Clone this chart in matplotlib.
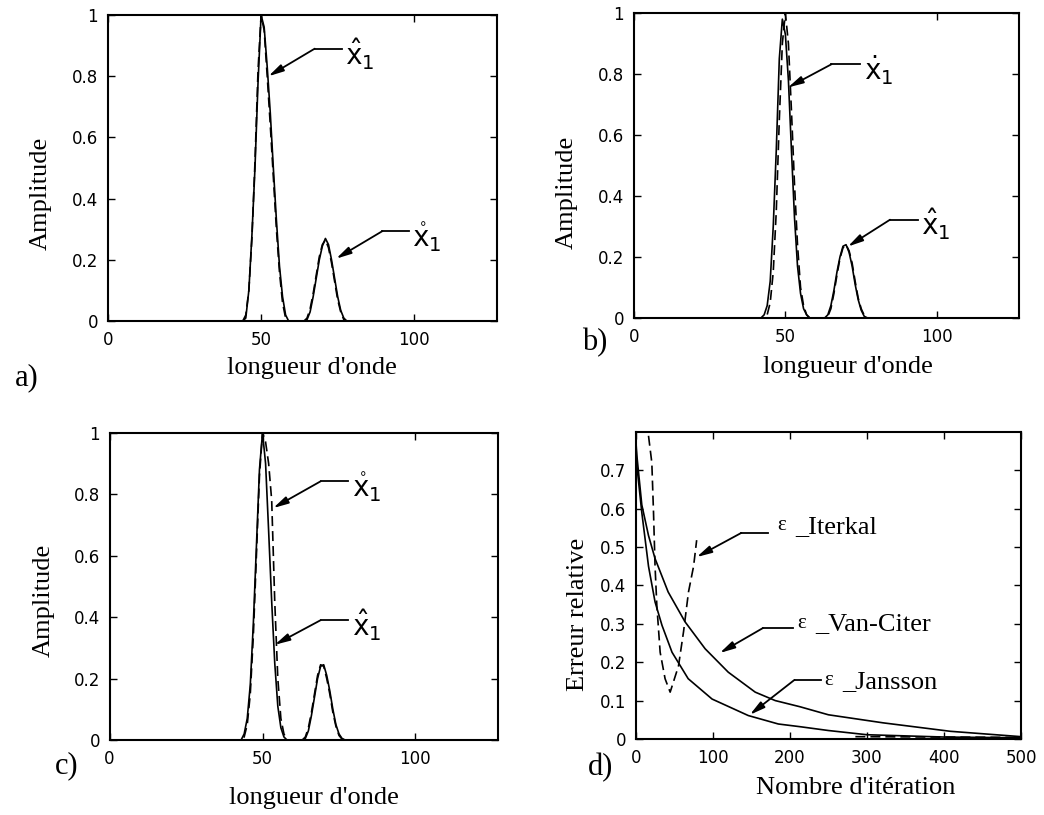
import numpy as np
import matplotlib
matplotlib.use("Agg")
import matplotlib.pyplot as plt

# ---- data ----
# panel a)  wavelength samples and amplitudes (solid = estimate, dashed = true)
a_x1 = [0, 44, 45, 46, 47, 48, 49, 50, 51, 52, 53, 54, 55, 56, 57, 58, 59]
a_s1 = [0, 0, 0.01, 0.10, 0.28, 0.50, 0.78, 1.00, 0.96, 0.83, 0.68, 0.50, 0.33, 0.18, 0.08, 0.02, 0]
a_d1 = [0, 0, 0.02, 0.10, 0.27, 0.52, 0.82, 1.00, 0.95, 0.80, 0.64, 0.47, 0.30, 0.16, 0.06, 0.01, 0]
a_x2 = [64, 65, 66, 67, 68, 69, 70, 71, 72, 73, 74, 75, 76, 77, 78, 127]
a_s2 = [0, 0.005, 0.03, 0.08, 0.14, 0.20, 0.245, 0.27, 0.25, 0.20, 0.14, 0.08, 0.035, 0.01, 0, 0]
a_d2 = [0, 0.01, 0.04, 0.09, 0.15, 0.21, 0.25, 0.265, 0.24, 0.19, 0.13, 0.07, 0.03, 0.005, 0, 0]

# panel b)
b_x1 = [0, 42, 43, 44, 45, 46, 47, 48, 49, 50, 51, 52, 53, 54, 55, 56, 57, 58]
b_s1 = [0, 0, 0.01, 0.04, 0.12, 0.30, 0.55, 0.85, 0.98, 0.93, 0.78, 0.55, 0.33, 0.17, 0.08, 0.03, 0.01, 0]
b_d1 = [0, 0, 0, 0.01, 0.05, 0.15, 0.35, 0.65, 0.90, 1.00, 0.90, 0.68, 0.44, 0.24, 0.10, 0.04, 0.01, 0]
b_x2 = [63, 64, 65, 66, 67, 68, 69, 70, 71, 72, 73, 74, 75, 76, 77, 127]
b_s2 = [0, 0.01, 0.04, 0.09, 0.15, 0.20, 0.235, 0.24, 0.215, 0.17, 0.11, 0.06, 0.025, 0.005, 0, 0]
b_d2 = [0, 0.005, 0.03, 0.08, 0.14, 0.195, 0.23, 0.24, 0.22, 0.18, 0.12, 0.065, 0.03, 0.008, 0, 0]

# panel c)
c_x1 = [0, 43, 44, 45, 46, 47, 48, 49, 50, 51, 52, 53, 54, 55, 56, 57, 58]
c_s1 = [0, 0, 0.02, 0.07, 0.18, 0.38, 0.63, 0.88, 1.00, 0.90, 0.68, 0.45, 0.25, 0.11, 0.04, 0.01, 0]
c_d1 = [0, 0, 0.01, 0.05, 0.15, 0.34, 0.60, 0.86, 1.00, 0.97, 0.90, 0.78, 0.45, 0.20, 0.07, 0.02, 0]
c_x2 = [63, 64, 65, 66, 67, 68, 69, 70, 71, 72, 73, 74, 75, 76, 77, 127]
c_s2 = [0, 0.005, 0.03, 0.08, 0.14, 0.20, 0.24, 0.245, 0.21, 0.16, 0.10, 0.05, 0.02, 0.005, 0, 0]
c_d2 = [0, 0.01, 0.04, 0.09, 0.15, 0.21, 0.245, 0.24, 0.20, 0.15, 0.09, 0.045, 0.015, 0.003, 0, 0]

# panel d)  relative error vs iteration
vc_it = [0, 1.3, 7.8, 16.5, 25, 42, 64, 90, 120, 155, 181, 213, 250, 321, 408, 500]
vc_err = [0.78, 0.74, 0.61, 0.53, 0.47, 0.383, 0.305, 0.235, 0.174, 0.122, 0.10, 0.084,
          0.063, 0.042, 0.02, 0.006]
ja_it = [0, 1.3, 7.8, 16.5, 25, 34, 47, 68, 99, 146, 185, 213, 250, 300, 400, 500]
ja_err = [0.78, 0.714, 0.59, 0.45, 0.357, 0.296, 0.226, 0.157, 0.104, 0.061, 0.039, 0.032,
          0.022, 0.011, 0.005, 0.003]
ik_it = [16.5, 20.8, 23, 25, 27.3, 31.6, 38, 44.6, 55.4, 62, 68.4, 75, 79]
ik_err = [0.79, 0.72, 0.59, 0.45, 0.348, 0.226, 0.157, 0.122, 0.19, 0.28, 0.383, 0.45, 0.518]
ik_tail_it = [285, 500]
ik_tail_err = [0.006, 0.004]

amp_ticks = [0, 0.2, 0.4, 0.6, 0.8, 1.0]
amp_labels = ['0', '0.2', '0.4', '0.6', '0.8', '1']
wl_ticks = [0, 50, 100]
err_ticks = [0, 0.1, 0.2, 0.3, 0.4, 0.5, 0.6, 0.7]
err_labels = ['0', '0.1', '0.2', '0.3', '0.4', '0.5', '0.6', '0.7']
it_ticks = [0, 100, 200, 300, 400, 500]

SERIF = 'Liberation Serif'
DASH = (0, (6, 3))
ARROW = dict(arrowstyle='-|>,head_length=0.9,head_width=0.22',
             color='k', lw=1.3, shrinkA=0, shrinkB=0)

fig = plt.figure(figsize=(10.44, 8.15), dpi=100)


def style_axes(ax):
    ax.tick_params(direction='in', top=True, right=True, length=5, width=1,
                   labelsize=12, pad=7)
    for sp in ax.spines.values():
        sp.set_linewidth(1.5)


def callout(ax, label, x0, x1, y, tip, tx, ty, size=20):
    ax.plot([x0, x1], [y, y], color='k', lw=1.3)
    ax.annotate('', xy=tip, xytext=(x0, y), arrowprops=ARROW)
    ax.text(tx, ty, label, fontsize=size, va='baseline', ha='left')


def peak_panel(rect, x1, s1, d1, x2, s2, d2, xl_x, xl_y, yl_x, yl_y):
    ax = fig.add_axes(rect)
    ax.plot(x1 + x2, s1 + s2, color='k', lw=1.2)
    ax.plot(x1 + x2, d1 + d2, color='k', lw=1.2, linestyle=DASH)
    ax.set_xlim(0, 127)
    ax.set_ylim(0, 1)
    ax.set_xticks(wl_ticks)
    ax.set_yticks(amp_ticks)
    ax.set_yticklabels(amp_labels)
    style_axes(ax)
    ax.set_xlabel("longueur d'onde", family=SERIF, fontsize=19, va='center')
    ax.xaxis.set_label_coords(xl_x, xl_y)
    ax.set_ylabel('Amplitude', family=SERIF, fontsize=19, va='center')
    ax.yaxis.set_label_coords(yl_x, yl_y)
    return ax


# a)
ax_a = peak_panel([0.1034, 0.606, 0.3726, 0.3756], a_x1, a_s1, a_d1, a_x2, a_s2, a_d2,
                  0.525, -0.154, -0.172, 0.418)
callout(ax_a, r'$\hat{\mathtt{x}}_{\mathrm{1}}$', 67.5, 76.5, 0.89, (52.4, 0.80), 77.5, 0.835)
callout(ax_a, r'$\mathring{\mathtt{x}}_{\mathrm{1}}$', 89.6, 98.2, 0.294, (74.5, 0.204), 99.2, 0.24)

# b)
ax_b = peak_panel([0.607, 0.610, 0.369, 0.374], b_x1, b_s1, b_d1, b_x2, b_s2, b_d2,
                  0.556, -0.16, -0.174, 0.413)
callout(ax_b, r'$\dot{\mathtt{x}}_{\mathrm{1}}$', 65.2, 74.6, 0.832, (50.9, 0.756), 76, 0.78)
callout(ax_b, r'$\hat{\mathtt{x}}_{\mathrm{1}}$', 84.5, 93.7, 0.322, (70.6, 0.234), 94.7, 0.27)

# c)
ax_c = peak_panel([0.105, 0.092, 0.372, 0.377], c_x1, c_s1, c_d1, c_x2, c_s2, c_d2,
                  0.526, -0.19, -0.17, 0.456)
callout(ax_c, r'$\mathring{\mathtt{x}}_{\mathrm{1}}$', 69, 77.8, 0.842, (53.5, 0.755), 79.3, 0.79)
callout(ax_c, r'$\hat{\mathtt{x}}_{\mathrm{1}}$', 69, 77.8, 0.39, (54, 0.31), 79.3, 0.338)

# d)
ax_d = fig.add_axes([0.609, 0.0933, 0.369, 0.3767])
ax_d.plot(vc_it, vc_err, color='k', lw=1.2)
ax_d.plot(ja_it, ja_err, color='k', lw=1.2)
ax_d.plot(ik_it, ik_err, color='k', lw=1.2, linestyle=DASH)
ax_d.plot(ik_tail_it, ik_tail_err, color='k', lw=1.2, linestyle=DASH)
ax_d.set_xlim(0, 500)
ax_d.set_ylim(0, 0.8)
ax_d.set_xticks(it_ticks)
ax_d.set_yticks(err_ticks)
ax_d.set_yticklabels(err_labels)
style_axes(ax_d)
ax_d.set_xlabel("Nombre d'itération", family=SERIF, fontsize=19, va='center')
ax_d.xaxis.set_label_coords(0.57, -0.16)
ax_d.set_ylabel('Erreur relative', family=SERIF, fontsize=19, va='center')
ax_d.yaxis.set_label_coords(-0.15, 0.407)

for name, x0, x1, y, tip, tx, ty in [
        ('_Iterkal', 137, 172, 0.537, (79, 0.474), 184, 0.545),
        ('_Van-Citer', 165, 204, 0.289, (109, 0.224), 210, 0.29),
        ('_Jansson', 206, 241, 0.154, (148, 0.063), 244, 0.14)]:
    ax_d.plot([x0, x1], [y, y], color='k', lw=1.3)
    ax_d.annotate('', xy=tip, xytext=(x0, y), arrowprops=ARROW)
    ax_d.text(tx, ty, 'ε', family=SERIF, fontsize=15, va='baseline', ha='left')
    ax_d.annotate(name, xy=(tx, ty), xytext=(13, -2), textcoords='offset points',
                  family=SERIF, fontsize=19, va='baseline', ha='left')

# panel letters
for lab, px, py in [('a)', 0.026, 0.537), ('b)', 0.570, 0.580),
                    ('c)', 0.064, 0.061), ('d)', 0.575, 0.058)]:
    fig.text(px, py, lab, family=SERIF, fontsize=22, ha='center', va='center')

fig.savefig('out.png', dpi=100)
